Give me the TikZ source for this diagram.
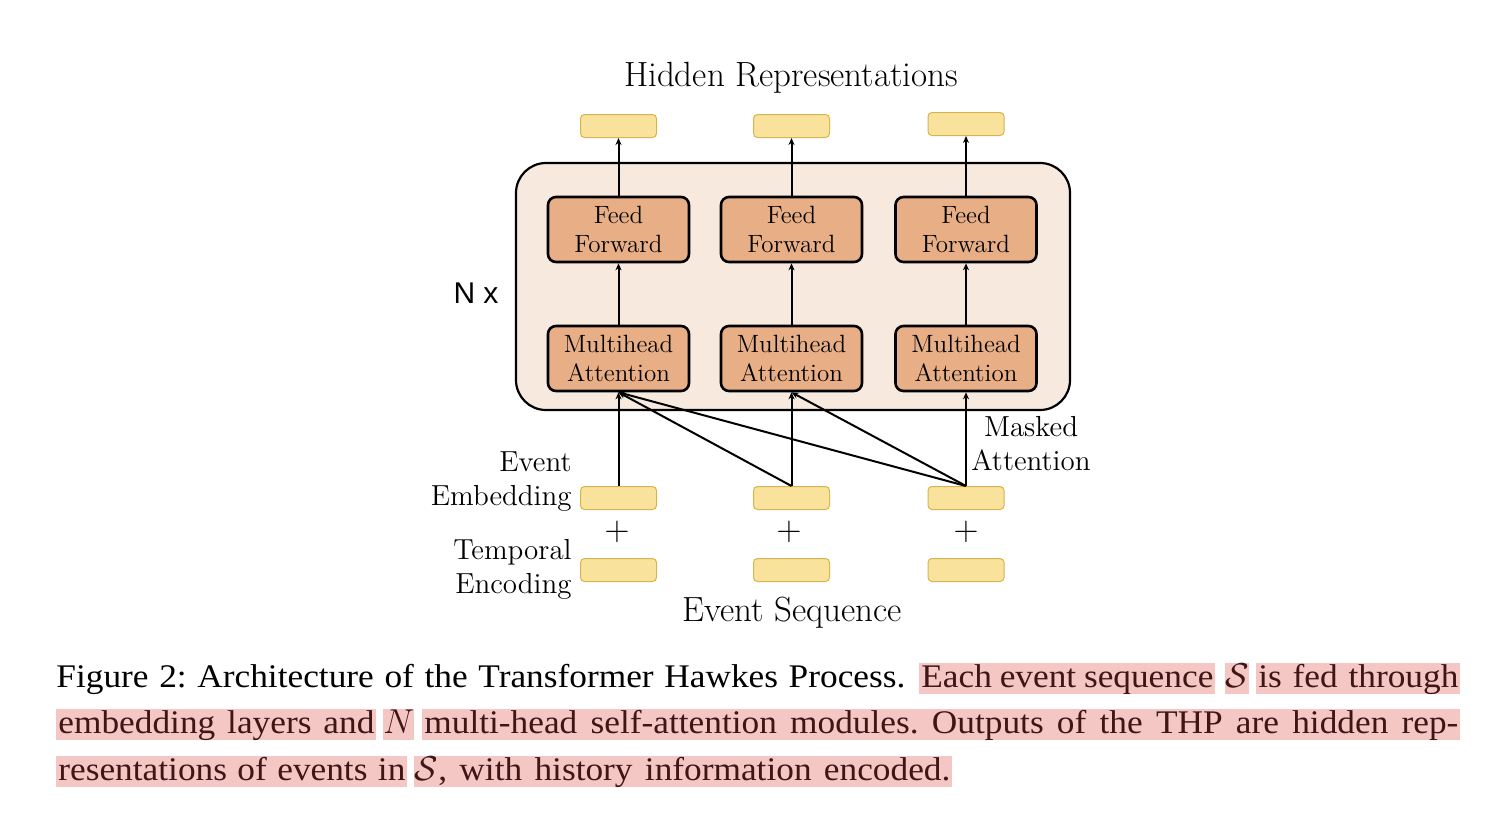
\documentclass[tikz,border=0pt]{standalone}
\usepackage{fontspec}
\usetikzlibrary{arrows.meta}
\newfontfamily\capfont[FakeStretch=1.07]{Liberation Serif}
\newfontfamily\nxfont{Liberation Sans}
\definecolor{yfill}{HTML}{F9E39C}
\definecolor{ydraw}{HTML}{D6B44E}
\definecolor{outerfill}{HTML}{F8E9DF}
\definecolor{boxfill}{HTML}{E8AF87}
\definecolor{hlpink}{HTML}{F4C6C4}
\definecolor{hltext}{HTML}{3E1616}
\begin{document}
\frenchspacing
\begin{tikzpicture}[x=0.5pt,y=-0.5pt,
  ybox/.style={draw=ydraw, fill=yfill, line width=0.5pt, rounded corners=2pt,
    minimum width=38pt, minimum height=11.5pt, inner sep=0pt},
  layerbox/.style={draw=black, fill=boxfill, line width=1.3pt, rounded corners=4pt,
    minimum width=70.5pt, minimum height=32.5pt, inner sep=0pt, align=center,
    font=\fontsize{12.5}{14.5}\selectfont},
  outerbox/.style={draw=black, fill=outerfill, line width=1.1pt, rounded corners=15pt,
    minimum width=277pt, minimum height=123.5pt, inner sep=0pt},
  conn/.style={line width=1pt, -{Stealth[length=3.5pt,width=3pt]}},
  sidelabel/.style={font=\fontsize{14.5}{17}\selectfont, inner sep=0pt},
  biglabel/.style={font=\fontsize{17.5}{20}\selectfont, inner sep=0pt, anchor=base},
  plussign/.style={font=\fontsize{18}{20}\selectfont, inner sep=0pt},
  captxt/.style={font=\capfont\fontsize{16.5}{20}\selectfont, inner xsep=0pt, inner ysep=0pt, anchor=base west},
  hl/.style={captxt, fill=hlpink, text=hltext, text height=12pt, text depth=3.5pt, inner xsep=1pt}
]
\useasboundingbox (0,0) rectangle (1494,815);

% outer block
\node[outerbox] (outer) at (793,286.5) {};

% top outputs
\node[ybox] (top1) at (618.5,126) {};
\node[ybox] (top2) at (791.5,126) {};
\node[ybox] (top3) at (966,124) {};

% feed forward
\node[layerbox] (ff1) at (618.5,229.5) {Feed\\Forward};
\node[layerbox] (ff2) at (791.5,229.5) {Feed\\Forward};
\node[layerbox] (ff3) at (966,229.5) {Feed\\Forward};

% multihead attention
\node[layerbox] (ma1) at (618.5,358.5) {Multihead\\Attention};
\node[layerbox] (ma2) at (791.5,358.5) {Multihead\\Attention};
\node[layerbox] (ma3) at (966,358.5) {Multihead\\Attention};

% embeddings
\node[ybox] (emb1) at (618.5,498) {};
\node[ybox] (emb2) at (791.5,498) {};
\node[ybox] (emb3) at (966,498) {};

% plus signs
\node[plussign] (plus1) at (617,532) {$+$};
\node[plussign] (plus2) at (789,532) {$+$};
\node[plussign] (plus3) at (966,532) {$+$};

% temporal encodings
\node[ybox] (tmp1) at (618.5,570) {};
\node[ybox] (tmp2) at (791.5,570) {};
\node[ybox] (tmp3) at (966,570) {};

% connectors
\draw[conn] (ff1.north) -- (top1.south);
\draw[conn] (ff2.north) -- (top2.south);
\draw[conn] (ff3.north) -- (top3.south);
\draw[conn] (ma1.north) -- (ff1.south);
\draw[conn] (ma2.north) -- (ff2.south);
\draw[conn] (ma3.north) -- (ff3.south);
\draw[conn] (emb1.north) -- (ma1.south);
\draw[conn] (emb2.north) -- (ma2.south);
\draw[conn] (emb3.north) -- (ma3.south);
\draw[conn] (emb2.north) -- (ma1.south);
\draw[conn] (emb3.north) -- (ma1.south);
\draw[conn] (emb3.north) -- (ma2.south);

% labels
\node[biglabel] (hidden) at (791,86) {Hidden Representations};
\node[biglabel] (evseq) at (792,621) {Event Sequence};
\node[font=\nxfont\fontsize{15}{18}\selectfont, inner sep=0pt] (nx) at (476,293) {N x};
\node[sidelabel, align=right, anchor=base east] (evemb) at (572,505) {Event\\Embedding};
\node[sidelabel, align=right, anchor=base east] (temenc) at (572,593) {Temporal\\Encoding};
\node[sidelabel, align=center, anchor=base] (masked) at (1031,470) {Masked\\Attention};

% caption
\node[captxt] (c1a) at (56,687) {\makebox[424.5pt][s]{Figure 2: Architecture of the Transformer Hawkes Process.}};
\node[hl] (c1b) at (919,687) {\makebox[146pt][s]{Each event sequence}};
\node[hl, minimum width=10pt, inner xsep=0pt] (c1c) at (1225,687) {$\mathcal{S}$};
\node[hl] (c1d) at (1256,687) {\makebox[100pt][s]{is fed through}};
\node[hl] (c2a) at (56,733) {\makebox[158pt][s]{embedding layers and}};
\node[hl, minimum width=14pt, inner xsep=0pt] (c2b) at (383,733) {$N$};
\node[hl] (c2c) at (422,733) {\makebox[517pt][s]{multi-head self-attention modules. Outputs of the THP are hidden rep-}};
\node[hl] (c3a) at (56,780) {\makebox[173.5pt][s]{resentations of events in}};
\node[hl, minimum width=11pt, inner xsep=0pt] (c3b) at (414,780) {$\mathcal{S}$};
\node[hl] (c3c) at (436,780) {\makebox[256pt][s]{, with history information encoded.}};
\end{tikzpicture}
\end{document}
